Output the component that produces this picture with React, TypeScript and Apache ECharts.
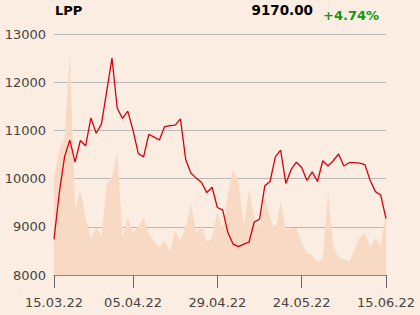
import React, { useEffect, useRef } from "react";
import * as echarts from "echarts";

const dates: string[] = [
  "15.03.22","16.03.22","17.03.22","18.03.22","21.03.22","22.03.22","23.03.22","24.03.22","25.03.22","28.03.22",
  "29.03.22","30.03.22","31.03.22","01.04.22","04.04.22","05.04.22","06.04.22","07.04.22","08.04.22","11.04.22",
  "12.04.22","13.04.22","14.04.22","19.04.22","20.04.22","21.04.22","22.04.22","25.04.22","26.04.22","27.04.22",
  "28.04.22","29.04.22","02.05.22","04.05.22","05.05.22","06.05.22","09.05.22","10.05.22","11.05.22","12.05.22",
  "13.05.22","16.05.22","17.05.22","18.05.22","19.05.22","20.05.22","23.05.22","24.05.22","25.05.22","26.05.22",
  "27.05.22","30.05.22","31.05.22","01.06.22","02.06.22","03.06.22","06.06.22","07.06.22","08.06.22","09.06.22",
  "10.06.22","13.06.22","14.06.22","15.06.22"
];

const prices: number[] = [
  8740, 9700, 10450, 10800, 10340, 10790, 10680, 11260, 10940, 11130,
  11810, 12500, 11460, 11250, 11400, 11000, 10520, 10450, 10920, 10860,
  10800, 11080, 11100, 11110, 11240, 10390, 10110, 10010, 9920, 9710,
  9820, 9400, 9350, 8880, 8640, 8590, 8640, 8680, 9100, 9160,
  9850, 9940, 10450, 10590, 9900, 10190, 10340, 10230, 9960, 10140,
  9940, 10370, 10260, 10370, 10510, 10260, 10330, 10330, 10320, 10290,
  9960, 9730, 9660, 9170
];

const volumes: number[] = [
  97, 125, 136, 220, 65, 86, 57, 36, 48, 39,
  90, 98, 123, 37, 57, 42, 48, 57, 42, 33,
  28, 35, 23, 45, 34, 48, 72, 42, 49, 33,
  37, 64, 45, 82, 106, 93, 49, 85, 57, 48,
  78, 57, 45, 73, 45, 47, 47, 32, 22, 20,
  13, 16, 83, 29, 17, 16, 14, 25, 38, 42,
  28, 37, 29, 65
];

const tickLabels: string[] = ["15.03.22", "05.04.22", "29.04.22", "24.05.22", "15.06.22"];
const yTicks: number[] = [8000, 9000, 10000, 11000, 12000, 13000];

const title = "LPP";
const lastPrice = "9170.00";
const change = "+4.74%";

export default function App() {
  const ref = useRef<HTMLDivElement>(null);
  useEffect(() => {
    if (!ref.current) return;
    const chart = echarts.init(ref.current, null, { renderer: "svg" });
    const showIdx = (i: number) => tickLabels.includes(dates[i]);
    const font = "DejaVu Sans";
    chart.setOption({
      animation: false,
      backgroundColor: "#FBEDE1",
      textStyle: { fontFamily: font },
      graphic: [
        { type: "text", left: 55, top: 4, style: { text: title, font: `bold 13px '${font}'`, fill: "#000" } },
        { type: "text", right: 107, top: 3, style: { text: lastPrice, font: `bold 13.5px '${font}'`, fill: "#000" } },
        { type: "text", left: 323, top: 9, style: { text: change, font: `bold 13px '${font}'`, fill: "#109A10" } },
      ],
      grid: { left: 54, right: 34, top: 34, bottom: 40, containLabel: false },
      xAxis: {
        type: "category",
        data: dates,
        boundaryGap: false,
        axisLine: { show: true, lineStyle: { color: "#888", width: 1 } },
        axisTick: { show: true, length: 13, interval: (i: number) => showIdx(i), lineStyle: { color: "#666" } },
        axisLabel: {
          interval: (i: number) => showIdx(i),
          color: "#444",
          fontSize: 13,
          fontFamily: font,
          margin: 21,
        },
        splitLine: { show: false },
      },
      yAxis: [
        {
          type: "value",
          min: yTicks[0],
          max: yTicks[yTicks.length - 1],
          interval: 1000,
          axisLine: { show: false },
          axisTick: { show: false },
          axisLabel: {
            color: "#444",
            fontSize: 13,
            fontFamily: font,
            margin: 8,
            formatter: (v: number) => String(v),
          },
          splitLine: { show: true, lineStyle: { color: "#B8B8B8", width: 1 } },
        },
        {
          type: "value",
          min: 0,
          max: 241,
          show: false,
          splitLine: { show: false },
        },
      ],
      series: [
        {
          type: "line",
          yAxisIndex: 1,
          data: volumes,
          symbol: "none",
          lineStyle: { width: 0 },
          areaStyle: { color: "#F8DAC4", opacity: 1 },
          z: 1,
        },
        {
          type: "line",
          yAxisIndex: 0,
          data: prices,
          symbol: "none",
          lineStyle: { color: "#D7000F", width: 1.3 },
          z: 3,
        },
      ],
    });
    return () => chart.dispose();
  }, []);
  return <div ref={ref} style={{ width: 420, height: 315, position: "absolute", left: 0, top: 0 }} />;
}
